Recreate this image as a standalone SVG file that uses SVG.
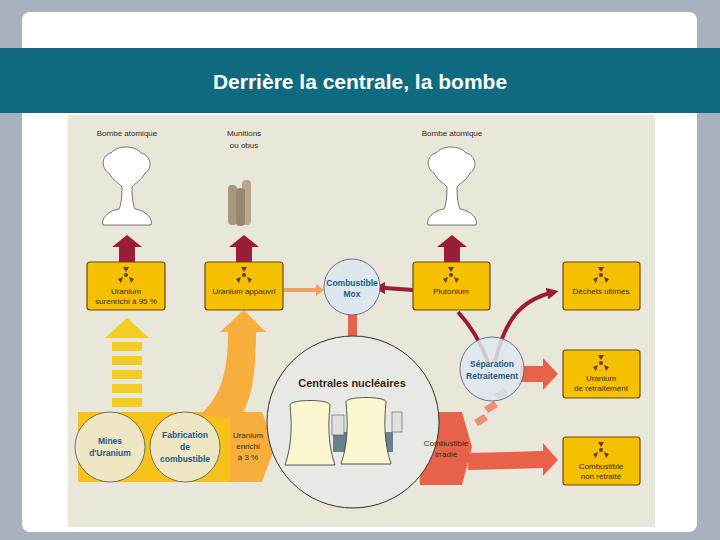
<svg xmlns="http://www.w3.org/2000/svg" width="720" height="540" viewBox="0 0 720 540">
<defs>
<style>
.t{font-family:"Liberation Sans",Arial,sans-serif;font-size:8px;fill:#3a2a10;text-anchor:middle}
.b{fill:#f5c000;stroke:#6b4a10;stroke-width:1.2}
.c{font-family:"Liberation Sans",Arial,sans-serif;font-size:8.5px;fill:#1d5a80;text-anchor:middle;font-weight:bold}
.dk{fill:#9b1b3a}
.rl{fill:none;stroke:#9b1b3a;stroke-width:4}
</style>
<marker id="ar" viewBox="0 0 10 10" refX="6" refY="5" markerWidth="3" markerHeight="3" orient="auto"><path d="M0,0L10,5L0,10z" fill="#9b1b3a"/></marker>
<g id="rad"><circle r="2" fill="#6b3a10"/><path d="M0,-3L-3,-8L3,-8z M-3,2L-8,4L-5,8z M3,2L8,4L5,8z" fill="#6b3a10"/></g>
<g id="mush"><path d="M-5,12C-5,22 -6,30 -8,34C-20,36 -26,44 -24,50L24,50C26,44 20,36 8,34C6,30 5,22 5,12C8,8 14,6 18,-2C26,-6 24,-20 14,-22C8,-30 -10,-30 -16,-22C-26,-20 -26,-6 -18,-2C-14,6 -8,8 -5,12z" fill="#fff" stroke="#555" stroke-width="0.8"/></g>
</defs>
<rect width="720" height="540" fill="#a8b2bf"/>
<rect x="22" y="12" width="675" height="520" rx="8" fill="#fff"/>
<rect x="68" y="115" width="587" height="412" fill="#e9e6da"/>
<rect x="0" y="48" width="720" height="65" fill="#0f6a80"/>
<text x="360" y="89" font-family="Liberation Sans,Arial,sans-serif" font-size="21" font-weight="bold" fill="#fff" text-anchor="middle">Derrière la centrale, la bombe</text>

<g id="connectors">
<path d="M78,412 L238,412 L238,482 L78,482 Z" fill="#f7c21a"/>
<path d="M200,415 C222,395 228,370 228,332 L220,332 L244,310 L266,332 L256,332 C256,380 250,405 238,420 Z" fill="#f7ae3c"/>
<g fill="#f5cc22"><rect x="112" y="398" width="30" height="9"/><rect x="112" y="384" width="30" height="9"/><rect x="112" y="370" width="30" height="9"/><rect x="112" y="356" width="30" height="9"/><rect x="112" y="342" width="30" height="9"/><path d="M105,338L127,318L149,338z"/></g>
<path d="M230,412 L262,412 L275,447 L262,482 L230,482 Z" fill="#f7ae3c"/>
<path d="M284,288 L316,288 L316,284 L324,290 L316,296 L316,292 L284,292 Z" fill="#f0a060"/>
<rect x="348" y="310" width="9" height="30" fill="#e8624a"/>
<path d="M420,412 L462,412 L472,447 L462,485 L420,485 Z" fill="#e8624a"/>
<path d="M468,453 L543,451 L543,443 L558,460 L543,476 L543,468 L468,470 Z" fill="#e8624a"/>
<path d="M520,366 L543,366 L543,358 L558,374 L543,390 L543,382 L520,382 Z" fill="#e8624a"/>
<g fill="#ef7a60" opacity="0.8"><path d="M474,420l10,-6l4,6l-10,6z"/><path d="M484,407l10,-6l4,6l-10,6z"/><path d="M494,394l10,-6l4,6l-10,6z"/></g>
<g class="dk"><path d="M119,262V247H112L127,235L142,247H135V262Z"/><path d="M236,262V247H229L244,235L259,247H252V262Z"/><path d="M444,262V247H437L452,235L467,247H460V262Z"/></g>
<path class="rl" d="M413,290 L385,288 L378,288" marker-end="url(#ar)"/>
<path class="rl" d="M458,312 C470,325 480,340 488,362"/>
<path class="rl" d="M495,362 C505,320 520,300 554,292" marker-end="url(#ar)"/>
</g>

<g id="bombe1"><use href="#mush" x="127" y="175"/><text class="t" x="127" y="136">Bombe atomique</text></g>
<g id="munitions"><text class="t" x="244" y="136">Munitions</text><text class="t" x="244" y="148">ou obus</text>
<rect x="228" y="185" width="9" height="40" rx="4" fill="#a89880"/><rect x="242" y="180" width="9" height="45" rx="4" fill="#b8a890"/><rect x="236" y="188" width="9" height="38" rx="4" fill="#988870"/></g>
<g id="bombe2"><use href="#mush" x="452" y="175"/><text class="t" x="452" y="136">Bombe atomique</text></g>

<g id="u95"><rect class="b" x="87" y="262" width="78" height="48" rx="3"/><use href="#rad" x="126" y="275"/><text class="t" x="126" y="294">Uranium</text><text class="t" x="126" y="304">surenrichi à 95 %</text></g>
<g id="uapp"><rect class="b" x="205" y="262" width="78" height="48" rx="3"/><use href="#rad" x="244" y="275"/><text class="t" x="244" y="294">Uranium appauvri</text></g>
<g id="pu"><rect class="b" x="413" y="262" width="77" height="48" rx="3"/><use href="#rad" x="451" y="275"/><text class="t" x="451" y="294">Plutonium</text></g>
<g id="dechets"><rect class="b" x="563" y="262" width="77" height="48" rx="3"/><use href="#rad" x="601" y="275"/><text class="t" x="601" y="294">Déchets ultimes</text></g>
<g id="uret"><rect class="b" x="563" y="350" width="77" height="48" rx="3"/><use href="#rad" x="601" y="363"/><text class="t" x="601" y="381">Uranium</text><text class="t" x="601" y="391">de retraitement</text></g>
<g id="cnr"><rect class="b" x="563" y="437" width="77" height="48" rx="3"/><use href="#rad" x="601" y="450"/><text class="t" x="601" y="469">Combustible</text><text class="t" x="601" y="479">non retraité</text></g>

<g id="mox"><circle cx="352" cy="287" r="28" fill="#dde8ee" stroke="#557" stroke-width="0.8"/><text class="c" x="352" y="286">Combustible</text><text class="c" x="352" y="297">Mox</text></g>
<g id="centrales"><circle cx="353" cy="422" r="86" fill="#e8e8e4" stroke="#333" stroke-width="1"/><text x="352" y="387" font-family="Liberation Sans,Arial,sans-serif" font-size="11" font-weight="bold" fill="#3a2a10" text-anchor="middle">Centrales nucléaires</text>
<path d="M333,432h60v20h-60z" fill="#6a8090"/>
<path d="M290,405c0,-6 40,-6 40,0c-2,20 -2,40 5,60h-50c7,-20 7,-40 5,-60z" fill="#fbf6d0" stroke="#333" stroke-width="0.8"/>
<path d="M346,402c0,-6 40,-6 40,0c-2,20 -2,40 5,62h-50c7,-20 7,-40 5,-62z" fill="#fbf6d0" stroke="#333" stroke-width="0.8"/>
<rect x="332" y="415" width="12" height="20" fill="#e0e0e0" stroke="#555" stroke-width="0.6"/><rect x="392" y="412" width="10" height="20" fill="#e0e0e0" stroke="#555" stroke-width="0.6"/></g>
<g id="sep"><circle cx="492" cy="369" r="32" fill="#dde8ee" fill-opacity="0.85" stroke="#557" stroke-width="0.8"/><text class="c" x="492" y="367">Séparation</text><text class="c" x="492" y="379">Retraitement</text></g>
<g id="mines"><circle cx="110" cy="447" r="35" fill="#efe6c3" stroke="#555" stroke-width="0.8"/><text class="c" x="110" y="444">Mines</text><text class="c" x="110" y="456">d'Uranium</text></g>
<g id="fab"><circle cx="185" cy="447" r="35" fill="#efe6c3" stroke="#555" stroke-width="0.8"/><text class="c" x="185" y="438">Fabrication</text><text class="c" x="185" y="450">de</text><text class="c" x="185" y="462">combustible</text></g>
<g id="uenr"><text class="t" x="248" y="438">Uranium</text><text class="t" x="248" y="449">enrichi</text><text class="t" x="248" y="460">à 3 %</text></g>
<g id="irr"><text class="t" x="446" y="446">Combustible</text><text class="t" x="446" y="457">irradié</text></g>
</svg>
